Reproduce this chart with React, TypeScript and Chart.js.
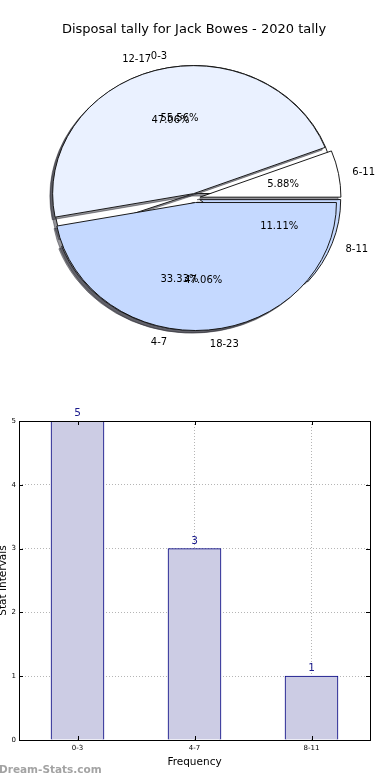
import React, { useEffect, useRef } from "react";
import { Chart, registerables } from "chart.js";
Chart.register(...registerables);

// ---------- data ----------
const TITLE = "Disposal tally for Jack Bowes - 2020 tally";
const pieALabels = ["0-3", "4-7", "8-11"];
const pieAValues = [5, 3, 1];
const pieBLabels = ["6-11", "12-17", "18-23"];
const pieBValues = [1, 8, 8];
const barLabels = ["0-3", "4-7", "8-11"];
const barValues = [5, 3, 1];
const yTickMax = 5;
const Y_TITLE = "Stat Intervals";
const X_TITLE = "Frequency";
const WATERMARK = "Dream-Stats.com";

// ---------- style ----------
const FONT = "'DejaVu Sans', 'Liberation Sans', sans-serif";
const pieColors = ["#FFFFFF", "#EAF1FF", "#C5D9FF"];
const R = 141;
const RATIO = 128 / 141;
const EXPLODE = 5;
const SHADOW = 2.8;
const SHADOW_COLOR = "rgba(45,45,55,0.5)";

const rev = <T,>(a: T[]) => a.slice().reverse();

function centerOf(chart: any) {
  const a = chart.chartArea;
  return { cx: (a.left + a.right) / 2, cy: (a.top + a.bottom) / 2 };
}

const piePlugin = {
  id: "overlayPie",
  afterDatasetsUpdate(chart: any) {
    chart.data.datasets.forEach((_: any, di: number) => {
      const meta = chart.getDatasetMeta(di);
      meta.data.forEach((arc: any) => {
        const mid = (arc.startAngle + arc.endAngle) / 2;
        arc.innerRadius = 0;
        arc.outerRadius = R;
        arc.x += Math.cos(mid) * EXPLODE;
        arc.y += Math.sin(mid) * EXPLODE;
      });
    });
  },
  beforeDatasetsDraw(chart: any) {
    const ctx = chart.ctx;
    const { cx, cy } = centerOf(chart);
    ctx.save();
    ctx.translate(cx, cy);
    ctx.scale(1, RATIO);
    ctx.translate(-cx, -cy);
  },
  beforeDatasetDraw(chart: any, args: any) {
    const ctx = chart.ctx;
    args.meta.data.forEach((arc: any) => {
      const o = arc.options;
      arc.options = { ...o, backgroundColor: SHADOW_COLOR, borderColor: SHADOW_COLOR };
      ctx.save();
      ctx.translate(-SHADOW, SHADOW);
      arc.draw(ctx);
      ctx.restore();
      arc.options = o;
    });
  },
  afterDatasetsDraw(chart: any) {
    chart.ctx.restore();
  },
  afterDraw(chart: any) {
    const ctx = chart.ctx;
    const { cy } = centerOf(chart);
    ctx.save();
    ctx.fillStyle = "#000";
    ctx.font = `13px ${FONT}`;
    ctx.textAlign = "center";
    ctx.textBaseline = "middle";
    ctx.fillText(TITLE, 194, 30);
    ctx.font = `10px ${FONT}`;
    chart.data.datasets.forEach((ds: any, di: number) => {
      const meta = chart.getDatasetMeta(di);
      const total = ds.data.reduce((s: number, v: number) => s + v, 0);
      meta.data.forEach((arc: any, i: number) => {
        const mid = (arc.startAngle + arc.endAngle) / 2;
        const c = Math.cos(mid), s = Math.sin(mid);
        const lx = arc.x + c * R * 1.1;
        const ly = cy + (arc.y + s * R * 1.1 - cy) * RATIO + 1.5;
        ctx.textAlign = c > 0 ? "left" : "right";
        ctx.fillText(ds.sliceLabels[i], lx, ly);
        const px = arc.x + c * R * 0.6;
        const py = cy + (arc.y + s * R * 0.6 - cy) * RATIO + 1;
        ctx.textAlign = "center";
        ctx.fillText(((ds.data[i] / total) * 100).toFixed(2) + "%", px, py);
      });
    });
    ctx.restore();
  },
};

const barPlugin = {
  id: "barExtras",
  afterDraw(chart: any) {
    const ctx = chart.ctx;
    const a = chart.chartArea;
    const xs = chart.scales.x, ys = chart.scales.y;
    ctx.save();
    ctx.strokeStyle = "#000";
    ctx.lineWidth = 1;
    ctx.strokeRect(Math.round(a.left) + 0.5, Math.round(a.top) + 0.5, Math.round(a.right - a.left), Math.round(a.bottom - a.top));
    ctx.beginPath();
    ys.ticks.forEach((_: any, i: number) => {
      const y = Math.round(ys.getPixelForTick(i)) + 0.5;
      ctx.moveTo(a.left, y); ctx.lineTo(a.left + 4, y);
      ctx.moveTo(a.right - 4, y); ctx.lineTo(a.right, y);
    });
    xs.ticks.forEach((_: any, i: number) => {
      const x = Math.round(xs.getPixelForTick(i)) + 0.5;
      ctx.moveTo(x, a.bottom); ctx.lineTo(x, a.bottom - 4);
      ctx.moveTo(x, a.top); ctx.lineTo(x, a.top + 4);
    });
    ctx.stroke();
    const meta = chart.getDatasetMeta(0);
    ctx.fillStyle = "#1a1a8c";
    ctx.font = `10.5px ${FONT}`;
    ctx.textAlign = "center";
    ctx.textBaseline = "alphabetic";
    meta.data.forEach((bar: any, i: number) => {
      ctx.fillText(String(chart.data.datasets[0].data[i]), bar.x, bar.y - 5);
    });
    ctx.fillStyle = "#a3a3a3";
    ctx.font = `bold 10.5px ${FONT}`;
    ctx.textAlign = "left";
    ctx.textBaseline = "middle";
    ctx.fillText(WATERMARK, -1, 370);
    ctx.restore();
  },
};

export default function App() {
  const pieRef = useRef<HTMLCanvasElement>(null);
  const barRef = useRef<HTMLCanvasElement>(null);

  useEffect(() => {
    Chart.defaults.font.family = FONT;
    const pie = new Chart(pieRef.current as HTMLCanvasElement, {
      type: "pie",
      data: {
        labels: rev(pieALabels),
        datasets: [
          {
            data: rev(pieAValues),
            sliceLabels: rev(pieALabels),
            backgroundColor: rev(pieColors),
            borderColor: "#111",
            borderWidth: 1,
            clip: false,
            order: 1,
          } as any,
          {
            data: rev(pieBValues),
            sliceLabels: rev(pieBLabels),
            backgroundColor: rev(pieColors),
            borderColor: "#111",
            borderWidth: 1,
            clip: false,
            order: 0,
          } as any,
        ],
      },
      options: {
        animation: false,
        responsive: false,
        events: [],
        rotation: 90,
        radius: R,
        layout: { padding: 0 },
        plugins: { legend: { display: false }, tooltip: { enabled: false }, title: { display: false } },
      } as any,
      plugins: [piePlugin],
    });

    const gridColor = "rgba(150,150,150,0.7)";
    const bar = new Chart(barRef.current as HTMLCanvasElement, {
      type: "bar",
      data: {
        labels: barLabels,
        datasets: [
          {
            data: barValues,
            backgroundColor: "#CCCCE4",
            borderColor: "#000080",
            borderWidth: 1,
            barThickness: 53,
          },
        ],
      },
      options: {
        animation: false,
        responsive: false,
        events: [],
        layout: { padding: { top: 21, right: 20, left: 0, bottom: 0 } },
        plugins: { legend: { display: false }, tooltip: { enabled: false } },
        scales: {
          x: {
            z: 1,
            offset: true,
            grid: { color: gridColor, lineWidth: 1, drawTicks: false, offset: false },
            border: { display: false, dash: [1, 2] },
            ticks: { font: { size: 7, family: FONT }, color: "#000", padding: 4 },
            title: { display: true, text: X_TITLE, color: "#000", font: { size: 10.5, family: FONT }, padding: { top: 2, bottom: 11 } },
            afterFit: (s: any) => { s.height = 40; },
          },
          y: {
            z: 1,
            min: 0,
            max: yTickMax,
            grid: { color: gridColor, lineWidth: 1, drawTicks: false },
            border: { display: false, dash: [1, 2] },
            ticks: { stepSize: 1, font: { size: 7, family: FONT }, color: "#000", padding: 3 },
            title: { display: true, text: Y_TITLE, color: "#000", font: { size: 10.5, family: FONT }, padding: { top: -3, bottom: 0 } },
            afterFit: (s: any) => { s.width = 19; },
          },
        },
      } as any,
      plugins: [barPlugin],
    });

    return () => {
      pie.destroy();
      bar.destroy();
    };
  }, []);

  return (
    <div style={{ position: "absolute", left: 0, top: 0, width: 390, height: 780, background: "#fff", overflow: "hidden" }}>
      <canvas ref={pieRef} width={390} height={396} style={{ position: "absolute", left: 0, top: 0 }} />
      <canvas ref={barRef} width={390} height={380} style={{ position: "absolute", left: 0, top: 400 }} />
    </div>
  );
}
